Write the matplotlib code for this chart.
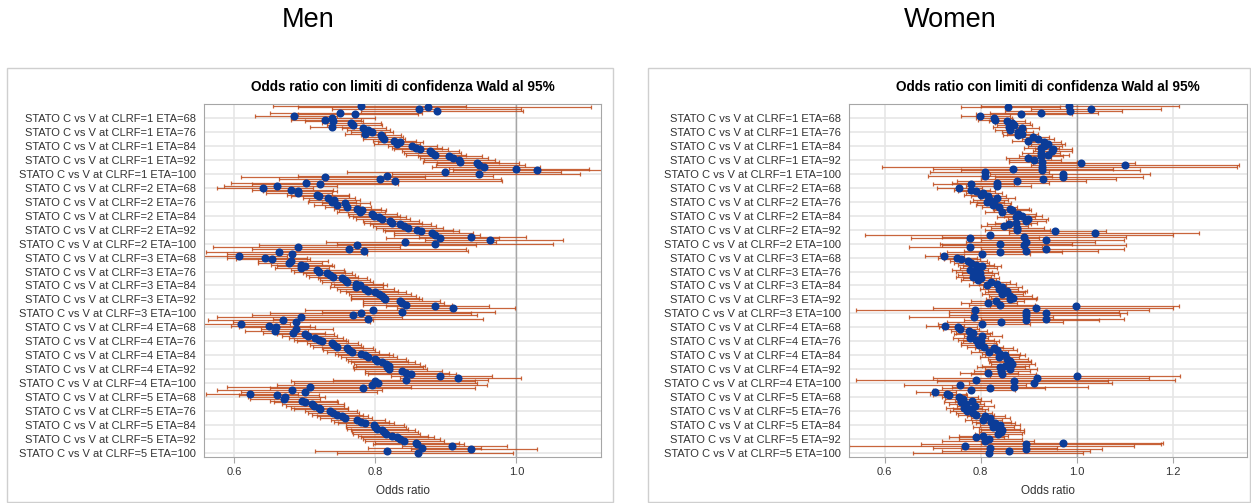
import numpy as np
import matplotlib
matplotlib.use('Agg')
import matplotlib.pyplot as plt
from matplotlib.patches import Rectangle

plt.rcParams['font.family'] = ['Liberation Sans', 'DejaVu Sans']

# Row categories: 5 CLRF levels x ages 61..100, labels shown every 8 years
clrf_levels = [1, 2, 3, 4, 5]
eta_ages = list(range(61, 101))
label_ages = [68, 76, 84, 92, 100]

# ---- Men: odds ratio, lower and upper Wald 95% limits (rows top to bottom)
men_or = [
    0.780, 0.874, 0.862, 0.887, 0.750, 0.771, 0.685, 0.739, 0.728, 0.740,
    0.765, 0.769, 0.738, 0.783, 0.790, 0.795, 0.785, 0.808, 0.810, 0.812,
    0.827, 0.835, 0.830, 0.852, 0.858, 0.864, 0.877, 0.880, 0.885, 0.904,
    0.910, 0.918, 0.920, 0.944, 0.947, 0.954, 0.999, 1.029, 0.899, 0.947,
    # CLRF=2
    0.817, 0.729, 0.806, 0.828, 0.702, 0.721, 0.660, 0.640, 0.680, 0.691,
    0.690, 0.717, 0.720, 0.733, 0.741, 0.738, 0.757, 0.745, 0.760, 0.774,
    0.781, 0.778, 0.795, 0.798, 0.805, 0.810, 0.821, 0.824, 0.835, 0.840,
    0.847, 0.859, 0.865, 0.880, 0.885, 0.935, 0.892, 0.963, 0.842, 0.885,
    # CLRF=3
    0.774, 0.690, 0.762, 0.784, 0.663, 0.682, 0.606, 0.644, 0.653, 0.681,
    0.677, 0.694, 0.700, 0.695, 0.717, 0.720, 0.731, 0.735, 0.740, 0.752,
    0.757, 0.760, 0.773, 0.778, 0.772, 0.785, 0.790, 0.800, 0.805, 0.810,
    0.812, 0.814, 0.835, 0.838, 0.843, 0.885, 0.910, 0.797, 0.838, 0.780,
    # CLRF=4
    0.768, 0.694, 0.790, 0.669, 0.688, 0.610, 0.649, 0.659, 0.687, 0.658,
    0.683, 0.700, 0.705, 0.715, 0.720, 0.724, 0.738, 0.742, 0.746, 0.760,
    0.762, 0.767, 0.780, 0.785, 0.790, 0.800, 0.803, 0.810, 0.815, 0.820,
    0.817, 0.820, 0.838, 0.843, 0.850, 0.891, 0.917, 0.843, 0.800, 0.804,
    # CLRF=5
    0.795, 0.708, 0.782, 0.682, 0.700, 0.622, 0.661, 0.672, 0.670, 0.696,
    0.700, 0.710, 0.713, 0.720, 0.722, 0.736, 0.740, 0.745, 0.752, 0.757,
    0.774, 0.780, 0.786, 0.798, 0.800, 0.802, 0.810, 0.812, 0.815, 0.824,
    0.830, 0.835, 0.840, 0.857, 0.859, 0.909, 0.866, 0.935, 0.817, 0.861,
]
men_lo = [
    0.655, 0.690, 0.738, 0.780, 0.650, 0.690, 0.630, 0.680, 0.680, 0.700,
    0.725, 0.731, 0.708, 0.752, 0.760, 0.766, 0.757, 0.780, 0.782, 0.783,
    0.797, 0.804, 0.798, 0.818, 0.823, 0.827, 0.838, 0.840, 0.843, 0.860,
    0.863, 0.869, 0.868, 0.888, 0.886, 0.880, 0.905, 0.910, 0.760, 0.823,
    0.690, 0.610, 0.664, 0.700, 0.595, 0.625, 0.585, 0.575, 0.625, 0.640,
    0.645, 0.675, 0.680, 0.697, 0.706, 0.705, 0.724, 0.713, 0.728, 0.741,
    0.748, 0.745, 0.761, 0.763, 0.769, 0.773, 0.782, 0.784, 0.793, 0.797,
    0.801, 0.811, 0.814, 0.826, 0.826, 0.862, 0.815, 0.870, 0.730, 0.745,
    0.635, 0.570, 0.625, 0.660, 0.560, 0.590, 0.545, 0.590, 0.602, 0.633,
    0.633, 0.652, 0.661, 0.658, 0.681, 0.685, 0.697, 0.701, 0.706, 0.718,
    0.722, 0.725, 0.737, 0.741, 0.735, 0.746, 0.750, 0.758, 0.762, 0.765,
    0.765, 0.765, 0.782, 0.782, 0.783, 0.815, 0.830, 0.700, 0.725, 0.650,
    0.625, 0.575, 0.655, 0.562, 0.598, 0.548, 0.595, 0.607, 0.638, 0.615,
    0.641, 0.660, 0.667, 0.678, 0.684, 0.689, 0.703, 0.707, 0.711, 0.725,
    0.726, 0.731, 0.743, 0.747, 0.751, 0.759, 0.761, 0.766, 0.770, 0.773,
    0.769, 0.770, 0.785, 0.786, 0.790, 0.822, 0.835, 0.740, 0.680, 0.685,
    0.660, 0.590, 0.650, 0.575, 0.610, 0.560, 0.607, 0.620, 0.622, 0.650,
    0.656, 0.668, 0.673, 0.681, 0.685, 0.700, 0.705, 0.710, 0.717, 0.721,
    0.737, 0.742, 0.747, 0.758, 0.759, 0.760, 0.766, 0.767, 0.769, 0.776,
    0.780, 0.783, 0.786, 0.799, 0.797, 0.838, 0.789, 0.850, 0.715, 0.745,
]
men_hi = [
    0.928, 1.106, 1.006, 1.010, 0.866, 0.860, 0.745, 0.800, 0.780, 0.783,
    0.808, 0.809, 0.770, 0.815, 0.821, 0.825, 0.814, 0.837, 0.839, 0.842,
    0.858, 0.867, 0.863, 0.887, 0.895, 0.903, 0.918, 0.922, 0.929, 0.951,
    0.960, 0.970, 0.975, 1.004, 1.012, 1.034, 1.103, 1.163, 1.063, 1.090,
    0.967, 0.871, 0.978, 0.980, 0.828, 0.832, 0.745, 0.712, 0.740, 0.746,
    0.738, 0.762, 0.762, 0.771, 0.778, 0.773, 0.792, 0.778, 0.794, 0.808,
    0.815, 0.813, 0.831, 0.835, 0.843, 0.849, 0.862, 0.866, 0.879, 0.886,
    0.896, 0.910, 0.919, 0.938, 0.948, 1.014, 0.976, 1.066, 0.971, 1.052,
    0.943, 0.835, 0.929, 0.931, 0.785, 0.788, 0.674, 0.703, 0.708, 0.733,
    0.724, 0.739, 0.741, 0.734, 0.755, 0.757, 0.767, 0.771, 0.776, 0.788,
    0.793, 0.797, 0.811, 0.817, 0.811, 0.826, 0.832, 0.844, 0.851, 0.858,
    0.862, 0.866, 0.891, 0.898, 0.908, 0.961, 0.998, 0.907, 0.969, 0.936,
    0.944, 0.838, 0.953, 0.796, 0.792, 0.679, 0.708, 0.715, 0.740, 0.704,
    0.728, 0.742, 0.745, 0.754, 0.758, 0.761, 0.775, 0.779, 0.783, 0.797,
    0.800, 0.805, 0.819, 0.825, 0.831, 0.843, 0.847, 0.856, 0.863, 0.870,
    0.868, 0.873, 0.895, 0.904, 0.915, 0.966, 1.007, 0.960, 0.941, 0.944,
    0.958, 0.850, 0.941, 0.809, 0.803, 0.691, 0.720, 0.728, 0.722, 0.745,
    0.747, 0.755, 0.756, 0.761, 0.761, 0.774, 0.777, 0.782, 0.789, 0.795,
    0.813, 0.820, 0.827, 0.840, 0.843, 0.846, 0.856, 0.860, 0.864, 0.875,
    0.883, 0.891, 0.898, 0.919, 0.926, 0.986, 0.950, 1.029, 0.934, 0.995,
]

# ---- Women
women_or = [
    0.984, 0.857, 1.031, 0.986, 0.926, 0.885, 0.799, 0.827, 0.830, 0.855,
    0.866, 0.870, 0.859, 0.887, 0.862, 0.877, 0.887, 0.877, 0.909, 0.919,
    0.898, 0.933, 0.940, 0.933, 0.926, 0.951, 0.949, 0.925, 0.940, 0.925,
    0.898, 0.912, 0.928, 1.010, 1.101, 0.928, 0.867, 0.928, 0.809, 0.972,
    # CLRF=2
    0.809, 0.972, 0.930, 0.875, 0.835, 0.780, 0.835, 0.755, 0.781, 0.790,
    0.806, 0.800, 0.816, 0.834, 0.820, 0.813, 0.827, 0.826, 0.838, 0.862,
    0.866, 0.845, 0.877, 0.887, 0.873, 0.898, 0.894, 0.873, 0.859, 0.848,
    0.875, 0.875, 0.955, 1.038, 0.820, 0.891, 0.777, 0.937, 0.894, 0.841,
    # CLRF=3
    0.891, 0.777, 0.937, 0.894, 0.841, 0.804, 0.724, 0.751, 0.760, 0.774,
    0.780, 0.790, 0.802, 0.795, 0.777, 0.785, 0.798, 0.790, 0.784, 0.800,
    0.795, 0.822, 0.834, 0.813, 0.845, 0.838, 0.855, 0.850, 0.845, 0.862,
    0.868, 0.862, 0.833, 0.816, 0.841, 0.999, 0.916, 0.788, 0.894, 0.937,
    # CLRF=4
    0.895, 0.786, 0.937, 0.895, 0.842, 0.802, 0.725, 0.752, 0.758, 0.775,
    0.785, 0.781, 0.804, 0.778, 0.790, 0.800, 0.795, 0.796, 0.808, 0.827,
    0.835, 0.818, 0.841, 0.850, 0.838, 0.856, 0.862, 0.860, 0.866, 0.850,
    0.841, 0.862, 0.843, 0.816, 0.845, 1.000, 0.918, 0.790, 0.870, 0.912,
    # CLRF=5
    0.757, 0.870, 0.820, 0.781, 0.706, 0.731, 0.735, 0.756, 0.763, 0.783,
    0.760, 0.770, 0.788, 0.765, 0.778, 0.772, 0.785, 0.790, 0.810, 0.820,
    0.805, 0.822, 0.830, 0.840, 0.826, 0.838, 0.845, 0.842, 0.836, 0.805,
    0.790, 0.818, 0.810, 0.972, 0.894, 0.767, 0.820, 0.894, 0.860, 0.818,
]
women_lo = [
    0.800, 0.760, 0.905, 0.850, 0.820, 0.790, 0.760, 0.790, 0.795, 0.818,
    0.830, 0.835, 0.826, 0.853, 0.830, 0.845, 0.855, 0.846, 0.877, 0.886,
    0.866, 0.899, 0.905, 0.898, 0.891, 0.914, 0.910, 0.886, 0.898, 0.880,
    0.852, 0.860, 0.860, 0.910, 0.905, 0.595, 0.700, 0.760, 0.695, 0.820,
    0.690, 0.830, 0.800, 0.750, 0.740, 0.700, 0.770, 0.710, 0.745, 0.752,
    0.770, 0.765, 0.781, 0.798, 0.785, 0.779, 0.792, 0.791, 0.802, 0.826,
    0.829, 0.809, 0.840, 0.849, 0.835, 0.858, 0.853, 0.830, 0.814, 0.800,
    0.822, 0.810, 0.860, 0.860, 0.560, 0.720, 0.655, 0.800, 0.770, 0.715,
    0.720, 0.650, 0.800, 0.765, 0.730, 0.715, 0.685, 0.712, 0.723, 0.737,
    0.744, 0.753, 0.764, 0.758, 0.741, 0.749, 0.762, 0.754, 0.748, 0.764,
    0.759, 0.785, 0.796, 0.776, 0.806, 0.799, 0.815, 0.809, 0.803, 0.818,
    0.821, 0.812, 0.780, 0.760, 0.775, 0.820, 0.700, 0.540, 0.735, 0.780,
    0.735, 0.650, 0.800, 0.765, 0.730, 0.712, 0.686, 0.714, 0.721, 0.738,
    0.748, 0.745, 0.766, 0.742, 0.754, 0.764, 0.759, 0.760, 0.771, 0.789,
    0.796, 0.780, 0.802, 0.810, 0.798, 0.815, 0.820, 0.817, 0.821, 0.803,
    0.792, 0.810, 0.787, 0.758, 0.780, 0.820, 0.700, 0.540, 0.710, 0.775,
    0.640, 0.740, 0.720, 0.700, 0.665, 0.694, 0.700, 0.720, 0.727, 0.746,
    0.724, 0.734, 0.751, 0.729, 0.742, 0.736, 0.748, 0.753, 0.772, 0.781,
    0.767, 0.783, 0.790, 0.799, 0.785, 0.796, 0.801, 0.797, 0.789, 0.755,
    0.735, 0.755, 0.720, 0.800, 0.677, 0.525, 0.700, 0.760, 0.720, 0.660,
]
women_hi = [
    1.213, 0.966, 1.175, 1.095, 1.045, 0.990, 0.862, 0.866, 0.867, 0.893,
    0.904, 0.907, 0.893, 0.922, 0.895, 0.910, 0.920, 0.909, 0.942, 0.953,
    0.931, 0.968, 0.976, 0.969, 0.963, 0.990, 0.990, 0.966, 0.984, 0.972,
    0.947, 0.967, 1.001, 1.121, 1.339, 1.335, 1.075, 1.133, 0.942, 1.152,
    0.949, 1.138, 1.082, 1.020, 0.942, 0.870, 0.905, 0.803, 0.819, 0.830,
    0.844, 0.836, 0.853, 0.872, 0.857, 0.849, 0.864, 0.862, 0.875, 0.900,
    0.905, 0.883, 0.916, 0.927, 0.913, 0.940, 0.937, 0.918, 0.906, 0.899,
    0.932, 0.945, 1.061, 1.255, 1.200, 1.102, 0.921, 1.098, 1.038, 0.990,
    1.102, 0.929, 1.098, 1.045, 0.969, 0.904, 0.766, 0.792, 0.799, 0.813,
    0.818, 0.829, 0.842, 0.834, 0.815, 0.823, 0.836, 0.828, 0.822, 0.838,
    0.833, 0.861, 0.874, 0.852, 0.886, 0.879, 0.897, 0.893, 0.889, 0.908,
    0.918, 0.915, 0.890, 0.876, 0.913, 1.213, 1.200, 1.150, 1.088, 1.105,
    1.090, 0.950, 1.098, 1.047, 0.971, 0.903, 0.766, 0.792, 0.797, 0.814,
    0.824, 0.819, 0.844, 0.816, 0.828, 0.838, 0.833, 0.834, 0.847, 0.867,
    0.876, 0.858, 0.882, 0.892, 0.880, 0.899, 0.906, 0.905, 0.913, 0.900,
    0.893, 0.917, 0.903, 0.878, 0.915, 1.215, 1.150, 1.205, 1.066, 1.073,
    0.895, 1.023, 0.934, 0.871, 0.749, 0.770, 0.772, 0.794, 0.801, 0.822,
    0.798, 0.808, 0.827, 0.803, 0.816, 0.810, 0.824, 0.829, 0.850, 0.861,
    0.845, 0.863, 0.872, 0.883, 0.869, 0.882, 0.891, 0.890, 0.886, 0.858,
    0.849, 0.886, 0.911, 1.181, 1.175, 1.120, 0.960, 1.052, 1.027, 1.014,
]

men_ticks = [0.6, 0.8, 1.0]
women_ticks = [0.6, 0.8, 1.0, 1.2]

W, H = 1251, 503
fig = plt.figure(figsize=(W / 100, H / 100), dpi=100)


def fx(px):
    return px / W


def fy(py):
    return 1 - py / H


# outer boxes and headings
for x0, x1, cx, name in [(7, 613, 308, 'Men'), (648, 1250, 950, 'Women')]:
    fig.patches.append(Rectangle((fx(x0), fy(502)), fx(x1 - x0), (502 - 68) / H,
                                 transform=fig.transFigure, fill=False,
                                 edgecolor='#CFCFCF', lw=1))
    fig.text(fx(cx), fy(20), name, ha='center', va='center',
             fontsize=19.5, color='black')

rows = np.arange(len(men_or))
tick_rows = [c * 40 + eta_ages.index(a) for c in range(len(clrf_levels)) for a in label_ages]
tick_labels = ['STATO C vs V at CLRF=%d ETA=%d' % (clrf_levels[c], a)
               for c in range(len(clrf_levels)) for a in label_ages]


def draw_panel(left, right, vals, lo, hi, xlim, xticks):
    ax = fig.add_axes([fx(left), fy(457), fx(right - left), (457 - 104) / H])
    vals = np.array(vals)
    lo = np.array(lo)
    hi = np.array(hi)
    for r in tick_rows:
        ax.axhline(r, color='#E6E6E6', lw=1.2, zorder=0)
    for t in xticks:
        ax.axvline(t, color='#E6E6E6', lw=1.2, zorder=0)
    ax.axvline(1.0, color='#A6A6A6', lw=1, zorder=1)
    ax.errorbar(vals, rows, xerr=[vals - lo, hi - vals], fmt='none',
                ecolor='#BF4A1A', elinewidth=0.9, capsize=1.6, capthick=0.9,
                alpha=0.85, zorder=2)
    ax.plot(vals, rows, 'o', color='#0B3C98', ms=5.8, mew=0, zorder=3)
    ax.set_xlim(*xlim)
    ax.set_ylim(201.3, -1.0)
    ax.set_yticks(tick_rows)
    ax.set_yticklabels(tick_labels, fontsize=8, color='#333333')
    ax.tick_params(axis='y', length=0, pad=6)
    ax.set_xticks(xticks)
    ax.set_xticklabels(['%.1f' % t for t in xticks], fontsize=8, color='#333333')
    ax.tick_params(axis='x', length=4, color='#A6A6A6', pad=3)
    ax.set_xlabel('Odds ratio', fontsize=8.5, color='#333333', labelpad=6)
    for s in ax.spines.values():
        s.set_color('#A6A6A6')
    fig.text(fx((left + right) / 2), fy(87), 'Odds ratio con limiti di confidenza Wald al 95%',
             ha='center', va='center', fontsize=9.8, fontweight='bold')
    return ax


draw_panel(204, 601, men_or, men_lo, men_hi, (0.557, 1.12), men_ticks)
draw_panel(849, 1247, women_or, women_lo, women_hi, (0.526, 1.355), women_ticks)

fig.savefig('out.png', dpi=100)
